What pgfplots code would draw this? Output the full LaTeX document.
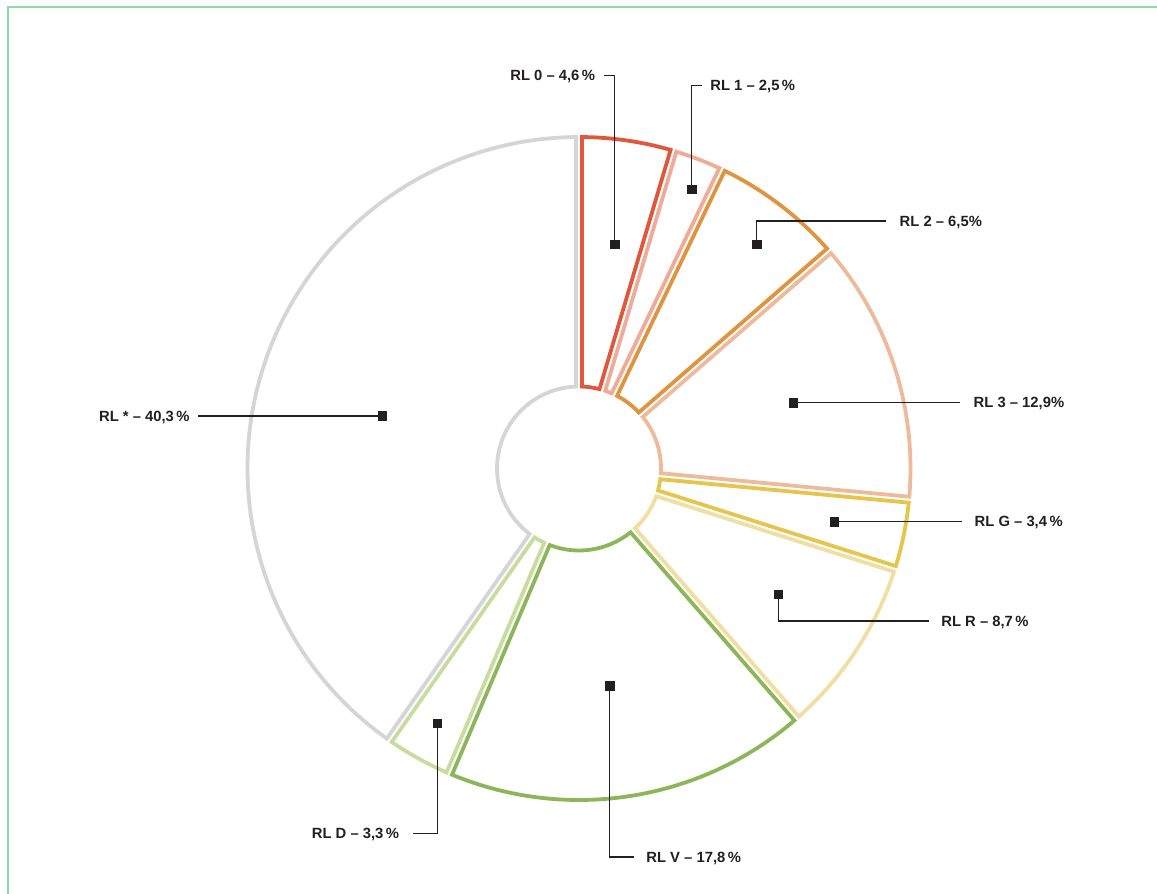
\documentclass[border=0pt]{standalone}
\usepackage{pgfplots}
\pgfplotsset{compat=1.18}
\usepackage{fontspec}
\setmainfont{Liberation Sans}

% segment colours
\definecolor{c0}{HTML}{E0573C}
\definecolor{c1}{HTML}{EFAB9A}
\definecolor{c2}{HTML}{DF9440}
\definecolor{c3}{HTML}{EDBA9C}
\definecolor{cG}{HTML}{E5C54C}
\definecolor{cR}{HTML}{F0DFA3}
\definecolor{cV}{HTML}{8DB65A}
\definecolor{cD}{HTML}{C9DCA0}
\definecolor{cS}{HTML}{D5D5D8}
\definecolor{ink}{HTML}{231F20}
\definecolor{frame}{HTML}{8CDCAA}

% geometry (1 unit = 0.5pt)
\def\Rout{165.75pt}  % outer radius
\def\Rin{41pt}       % inner radius
\def\gap{1.5}        % half gap between segments, pt

\newcommand{\lbl}{\fontsize{7.4}{8.5}\selectfont\bfseries\color{ink}}

\begin{document}
\begin{tikzpicture}
\useasboundingbox (0,0) rectangle (578.5pt,447pt);
\begin{axis}[
  x=0.5pt, y=0.5pt,
  xmin=0, xmax=1157, ymin=0, ymax=894,
  y dir=reverse,
  hide axis, clip=false,
  anchor=south west, at={(0,0)},
  leader/.style={ink, line width=0.75pt, mark=none, solid},
]
% frame
\draw[frame, line width=0.8pt] (axis cs:8,900) -- (axis cs:8,7) -- (axis cs:1165,7);

% donut segments, clockwise from 12 o'clock
\pgfplotsextra{
  \begin{scope}[shift={(axis cs:579,468.5)}]
    \pgfmathsetmacro\dout{asin(\gap/165.75)}
    \pgfmathsetmacro\din{asin(\gap/41)}
    \gdef\pieang{90}
    \foreach \v/\c in {4.6/c0, 2.5/c1, 6.5/c2, 12.9/c3, 3.4/cG,
                       8.7/cR, 17.8/cV, 3.3/cD, 40.3/cS}{
      \pgfmathsetmacro\a{\pieang}
      \pgfmathsetmacro\b{\pieang-3.6*\v}
      \xdef\pieang{\b}
      \pgfmathsetmacro\ai{\a-\din}
      \pgfmathsetmacro\ao{\a-\dout}
      \pgfmathsetmacro\bi{\b+\din}
      \pgfmathsetmacro\bo{\b+\dout}
      \draw[\c, line width=1.9pt, line join=miter]
        (\ai:\Rin) -- (\ao:\Rout)
        arc[start angle=\ao, end angle=\bo, radius=\Rout]
        -- (\bi:\Rin)
        arc[start angle=\bi, end angle=\ai, radius=\Rin] -- cycle;
    }
  \end{scope}
}

% leader lines
\addplot[leader] coordinates {(604,75.7) (614.5,75.7) (614.5,244.3)};
\addplot[leader] coordinates {(702,85.3) (691.5,85.3) (691.5,189.3)};
\addplot[leader] coordinates {(886,221) (756.5,221) (756.5,244.3)};
\addplot[leader] coordinates {(960,402.5) (793.3,402.5)};
\addplot[leader] coordinates {(962,521.5) (834.3,521.5)};
\addplot[leader] coordinates {(928.5,620.8) (778.3,620.8) (778.3,594.3)};
\addplot[leader] coordinates {(609.7,686) (609.7,856.8) (634.3,856.8)};
\addplot[leader] coordinates {(437.3,723.3) (437.3,833.3) (412.7,833.3)};
\addplot[leader] coordinates {(197.7,416) (382.3,416)};

% label anchor squares
\addplot[only marks, mark=square*, mark size=2.2pt, ink] coordinates {
  (614.5,244.3) (691.5,189.3) (756.5,244.3) (793.3,402.7) (834.3,521.7)
  (778.3,594.3) (609.7,686) (437.3,723.3) (382.3,416)};

% labels
\node[anchor=base east, inner sep=0pt, font=\lbl] at (axis cs:595.5,80.9) {RL 0 – 4,6\,\%};
\node[anchor=base west, inner sep=0pt, font=\lbl] at (axis cs:710,90.5) {RL 1 – 2,5\,\%};
\node[anchor=base west, inner sep=0pt, font=\lbl] at (axis cs:899.3,226.2) {RL 2 – 6,5\%};
\node[anchor=base west, inner sep=0pt, font=\lbl] at (axis cs:973.3,407.5) {RL 3 – 12,9\%};
\node[anchor=base west, inner sep=0pt, font=\lbl] at (axis cs:974.3,526.4) {RL G – 3,4\,\%};
\node[anchor=base west, inner sep=0pt, font=\lbl] at (axis cs:941,626) {RL R – 8,7\,\%};
\node[anchor=base west, inner sep=0pt, font=\lbl] at (axis cs:646,862) {RL V – 17,8\,\%};
\node[anchor=base east, inner sep=0pt, font=\lbl] at (axis cs:399.5,838.5) {RL D – 3,3\,\%};
\node[anchor=base east, inner sep=0pt, font=\lbl] at (axis cs:190,421.3) {RL * – 40,3\,\%};
\end{axis}
\end{tikzpicture}
\end{document}
